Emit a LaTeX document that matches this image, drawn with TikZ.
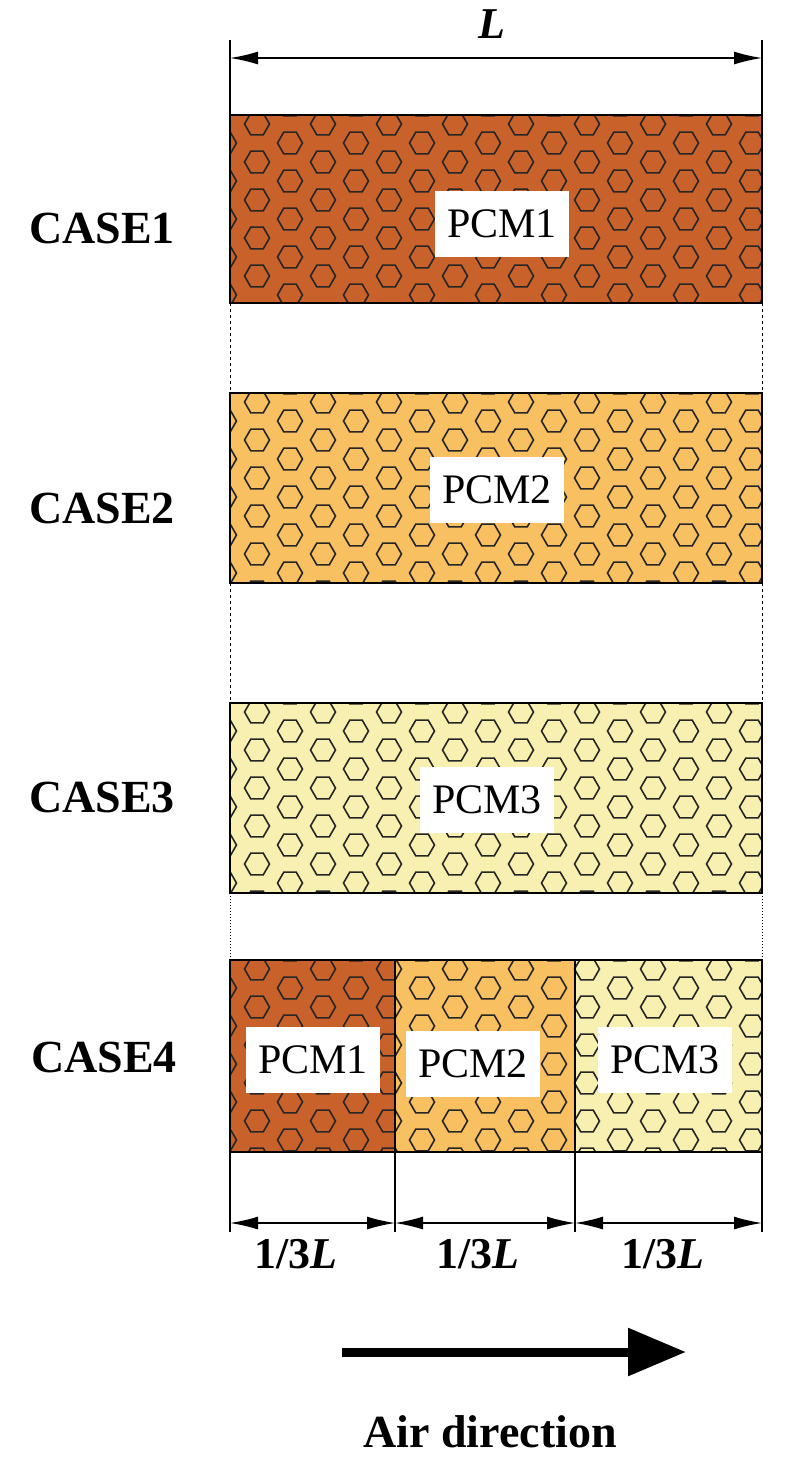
\documentclass[tikz,border=0pt]{standalone}
\usepackage{fontspec}
\setmainfont{Liberation Serif}
\usetikzlibrary{arrows.meta}
\definecolor{pcmA}{HTML}{C8622A}
\definecolor{pcmB}{HTML}{F8C060}
\definecolor{pcmC}{HTML}{F8F0B0}
\tikzset{
  lbl/.style={fill=white,inner sep=2pt,font=\fontsize{42}{44}\selectfont,minimum height=66pt,minimum width=134pt},
  case/.style={font=\bfseries\fontsize{46}{48}\selectfont},
  dim/.style={line width=1.5pt,{Latex[length=28pt,width=13pt]}-{Latex[length=28pt,width=13pt]}},
  ext/.style={line width=1.3pt},
}
\newcommand{\hexfill}[5]{% x1 y1 x2 y2 color
  \begin{scope}
  \clip (#1,#2) rectangle (#3,#4);
  \fill[#5] (#1,#2) rectangle (#3,#4);
  \foreach \i in {0,...,17}{
    \foreach \j in {0,...,6}{
      \pgfmathsetmacro{\hx}{224+33*\i}
      \pgfmathsetmacro{\hy}{#2-10+38*\j+19*mod(\i,2)}
      \draw[line width=1.6pt,black!85] (\hx,\hy) ++(12.5,0) -- ++(120:12.5) -- ++(180:12.5) -- ++(240:12.5) -- ++(300:12.5) -- ++(0:12.5) -- cycle;
    }
  }
  \end{scope}
  \draw[line width=1.3pt] (#1,#2) rectangle (#3,#4);
}
\begin{document}
\begin{tikzpicture}[x=1pt,y=-1pt]
\useasboundingbox (0,0) rectangle (792,1478);
% top dimension
\coordinate (tl) at (230,58); \coordinate (tr) at (762,58);
\draw[ext] (230,40) -- (230,115); \draw[ext] (762,40) -- (762,115);
\draw[dim] (tl) -- (tr);
\node[font=\bfseries\itshape\fontsize{44}{46}\selectfont] (L) at (492,24) {L};
% cases
\hexfill{230}{115}{762}{303}{pcmA}
\hexfill{230}{393}{762}{583}{pcmB}
\hexfill{230}{703}{762}{893}{pcmC}
\hexfill{230}{960}{395}{1152}{pcmA}
\hexfill{395}{960}{575}{1152}{pcmB}
\hexfill{575}{960}{762}{1152}{pcmC}
\draw[dashed,line width=1pt] (230,303) -- (230,393) (762,303) -- (762,393);
\draw[dashed,line width=1pt] (230,583) -- (230,703) (762,583) -- (762,703);
\draw[dotted,line width=1pt] (230,893) -- (230,960) (762,893) -- (762,960);
\node[lbl] (p1) at (502,224) {PCM1};
\node[lbl] (p2) at (497,490) {PCM2};
\node[lbl] (p3) at (487,800) {PCM3};
\node[lbl] (q1) at (313,1060) {PCM1};
\node[lbl] (q2) at (473,1064) {PCM2};
\node[lbl] (q3) at (665,1060) {PCM3};
\node[case] (c1) at (102,228) {CASE1};
\node[case] (c2) at (102,508) {CASE2};
\node[case] (c3) at (102,797) {CASE3};
\node[case] (c4) at (104,1057) {CASE4};
% bottom dimensions
\foreach \x in {230,395,575,762}{\draw[ext] (\x,1152) -- (\x,1232);}
\coordinate (b0) at (230,1223); \coordinate (b1) at (395,1223);
\coordinate (b2) at (575,1223); \coordinate (b3) at (762,1223);
\draw[dim] (b0) -- (b1); \draw[dim] (b1) -- (b2); \draw[dim] (b2) -- (b3);
\foreach \x/\n in {296/d1,478/d2,663/d3}{
  \node[font=\bfseries\fontsize{44}{46}\selectfont] (\n) at (\x,1254) {1/3\textit{L}};}
% air arrow
\coordinate (a0) at (342,1352); \coordinate (a1) at (686,1352);
\draw[line width=9pt,-{Triangle[length=58pt,width=46pt]}] (a0) -- (a1);
\node[font=\bfseries\fontsize{46}{48}\selectfont] (air) at (490,1432) {Air direction};
\end{tikzpicture}
\end{document}
